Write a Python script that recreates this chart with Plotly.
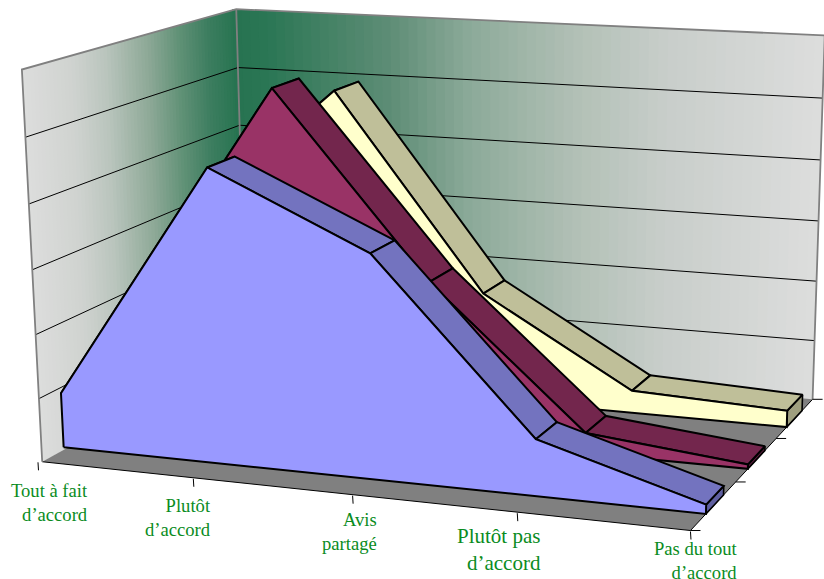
import numpy as np
import plotly.graph_objects as go

categories = ["Tout à fait<br>d’accord", "Plutôt<br>d’accord", "Avis<br>partagé", "Plutôt pas<br>d’accord", "Pas du tout<br>d’accord"]
label_sizes = [18.6, 18.6, 18.6, 21, 18.6]
blue_values = [8.7, 45.6, 34.5, 8.7, 1.4]
maroon_values = [17.1, 53.9, 25.1, 3.2, 0.7]
cream_values = [28.0, 49.9, 17.9, 3.7, 2.7]
value_max = 60
gridlines = [0, 10, 20, 30, 40, 50, 60]

# Depth bands of the three area series and their face colours (front, top, end cap)
series = [
    ("Série 3", cream_values, (0.76, 0.90), "#FFFFCC", "#BFBF99", "#9F9F7F"),
    ("Série 2", maroon_values, (0.43, 0.57), "#993366", "#73264D", "#5C1F3F"),
    ("Série 1", blue_values, (0.11, 0.24), "#9999FF", "#7373BF", "#5F5FA0"),
]

# Perspective view of the box (category, depth, value), fitted on the frame and ticks
X0 = 0.007
box = [(0,0,0),(.25,0,0),(.5,0,0),(.75,0,0),(1,0,0),(1,1/3,0),(1,2/3,0),(1,1,0),(X0,1,0),
       (X0,0,1),(X0,0,5/6),(X0,0,1/6),(X0,1,1),(X0,1,5/6),(X0,1,4/6),(1,1,1),(1,1,5/6)]
view = [(36,460.5),(193,477),(352,495),(518,513.5),(688,532),(735,482),(777,438),(812.5,398),(246,350),
        (21.5,69.5),(26,136.7),(39,397.5),(236,10),(238,68),(239.3,125),(825,35),(822.7,98)]
Am, bm = [], []
for (x,y,z),(u,v) in zip(box, view):
    Am.append([x,y,z,1,0,0,0,0,-u*x,-u*y,-u*z]); bm.append(u)
    Am.append([0,0,0,0,x,y,z,1,-v*x,-v*y,-v*z]); bm.append(v)
P = np.append(np.linalg.lstsq(np.array(Am,float), np.array(bm,float), rcond=None)[0], 1).reshape(3,4)

def pr(x, y, z):
    h = P @ np.array([x, y, z, 1.0])
    return float(h[0]/h[2]), float(h[1]/h[2])

def xy(points):
    pts = [pr(*p) for p in points]
    return [p[0] for p in pts], [p[1] for p in pts]

def lerp(stops, t):
    ts = [s[0] for s in stops]
    return "rgb(%d,%d,%d)" % tuple(int(round(np.interp(t, ts, [s[1][k] for s in stops]))) for k in range(3))

back_stops = [(0,(38,115,80)),(0.06,(42,118,84)),(0.28,(94,141,118)),(0.42,(140,170,153)),(0.6,(178,192,182)),(0.75,(200,206,202)),(1,(221,221,221))]
left_stops = [(0,(221,221,221)),(0.2,(208,211,208)),(0.35,(186,197,189)),(0.55,(140,168,150)),(0.7,(96,145,118)),(0.85,(60,125,95)),(1,(38,115,80))]

shapes = []
def strip(a, b, c, d, color):
    pts = [pr(*a), pr(*b), pr(*c), pr(*d)]
    path = "M" + " L".join("%.2f,%.2f" % p for p in pts) + " Z"
    shapes.append(dict(type="path", path=path, xref="x", yref="y", fillcolor=color, line=dict(width=0), layer="below"))

N = 64
for i in range(N):
    t0, t1 = i/N, min((i+1.6)/N, 1)
    strip((X0,t0,0),(X0,t1,0),(X0,t1,1),(X0,t0,1), lerp(left_stops, (i+.5)/N))
for i in range(N):
    t0, t1 = i/N, min((i+1.6)/N, 1)
    strip((t0,1,0),(t1,1,0),(t1,1,1),(t0,1,1), lerp(back_stops, (i+.5)/N))

fig = go.Figure()
def line(points, color="black", width=1.0, name=""):
    x, y = xy(points)
    fig.add_trace(go.Scatter(x=x, y=y, mode="lines", line=dict(color=color, width=width), hoverinfo="skip", name=name, showlegend=False))
def poly(points, fill, name, width=2.0):
    x, y = xy(points)
    fig.add_trace(go.Scatter(x=x+x[:1], y=y+y[:1], mode="lines", fill="toself", fillcolor=fill,
                             line=dict(color="black", width=width, simplify=False), hoverinfo="skip", name=name, showlegend=False))

for g in gridlines[1:-1]:
    z = g/value_max
    line([(X0,0,z),(X0,1,z),(1,1,z)], name="grid")

x, y = xy([(X0,0,0),(1,0,0),(1,1,0),(X0,1,0)])
fig.add_trace(go.Scatter(x=x+x[:1], y=y+y[:1], mode="lines", fill="toself", fillcolor="#808080",
                         line=dict(color="rgba(0,0,0,0)", width=0), hoverinfo="skip", showlegend=False, name="floor"))
line([(X0,0,0),(1,0,0),(1,1,0)], "black", 1.0, "floor edge")
line([(X0,0,0),(X0,0,1),(X0,1,1),(1,1,1),(1,1,0)], "#808080", 1.8, "wall edge")
line([(X0,1,1),(X0,1,0)], "#808080", 1.8, "wall edge")

cats = [0, 0.2535, 0.503, 0.7505, 1]
for name, vals, (y0, y1), front, top, cap in series:
    z = [v/value_max for v in vals]
    poly([(1,y0,0),(1,y1,0),(1,y1,z[-1]),(1,y0,z[-1])], cap, name+" extrémité", 1.6)
    for i in range(len(cats)-1):
        poly([(cats[i],y0,z[i]),(cats[i+1],y0,z[i+1]),(cats[i+1],y1,z[i+1]),(cats[i],y1,z[i])], top, name+" dessus")
    poly([(0,y0,0)] + [(c,y0,h) for c,h in zip(cats,z)] + [(1,y0,0)], front, name)

# ticks and labels
tick_len = 8
label_dx = [52, 20, 26, 26, 49]
label_dy = [41, 40, 37, 37, 30]
annotations = []
for i, c in enumerate(cats):
    u, v = pr(c, 0, 0)
    fig.add_trace(go.Scatter(x=[u, u+0.5], y=[v+1, v+1+tick_len], mode="lines", line=dict(color="black", width=1), hoverinfo="skip", showlegend=False))
    annotations.append(dict(x=u+label_dx[i], y=v+label_dy[i], xref="x", yref="y", text=categories[i], showarrow=False,
                            xanchor="right", yanchor="middle", align="right",
                            font=dict(family="Liberation Serif", size=label_sizes[i], color="#0A8C1E")))
for d in [0, 1/3, 2/3, 1]:
    u, v = pr(1, d, 0)
    fig.add_trace(go.Scatter(x=[u, u+10], y=[v, v], mode="lines", line=dict(color="black", width=1), hoverinfo="skip", showlegend=False))

fig.update_layout(width=824, height=579, margin=dict(l=0,r=0,t=0,b=0), paper_bgcolor="white", plot_bgcolor="white",
                  xaxis=dict(range=[0,824], visible=False, fixedrange=True), yaxis=dict(range=[579,0], visible=False, fixedrange=True),
                  showlegend=False, shapes=shapes, annotations=annotations, hovermode=False)
fig.write_html("out.html", config={"displayModeBar": False}, post_script="document.body.style.margin='0';")
